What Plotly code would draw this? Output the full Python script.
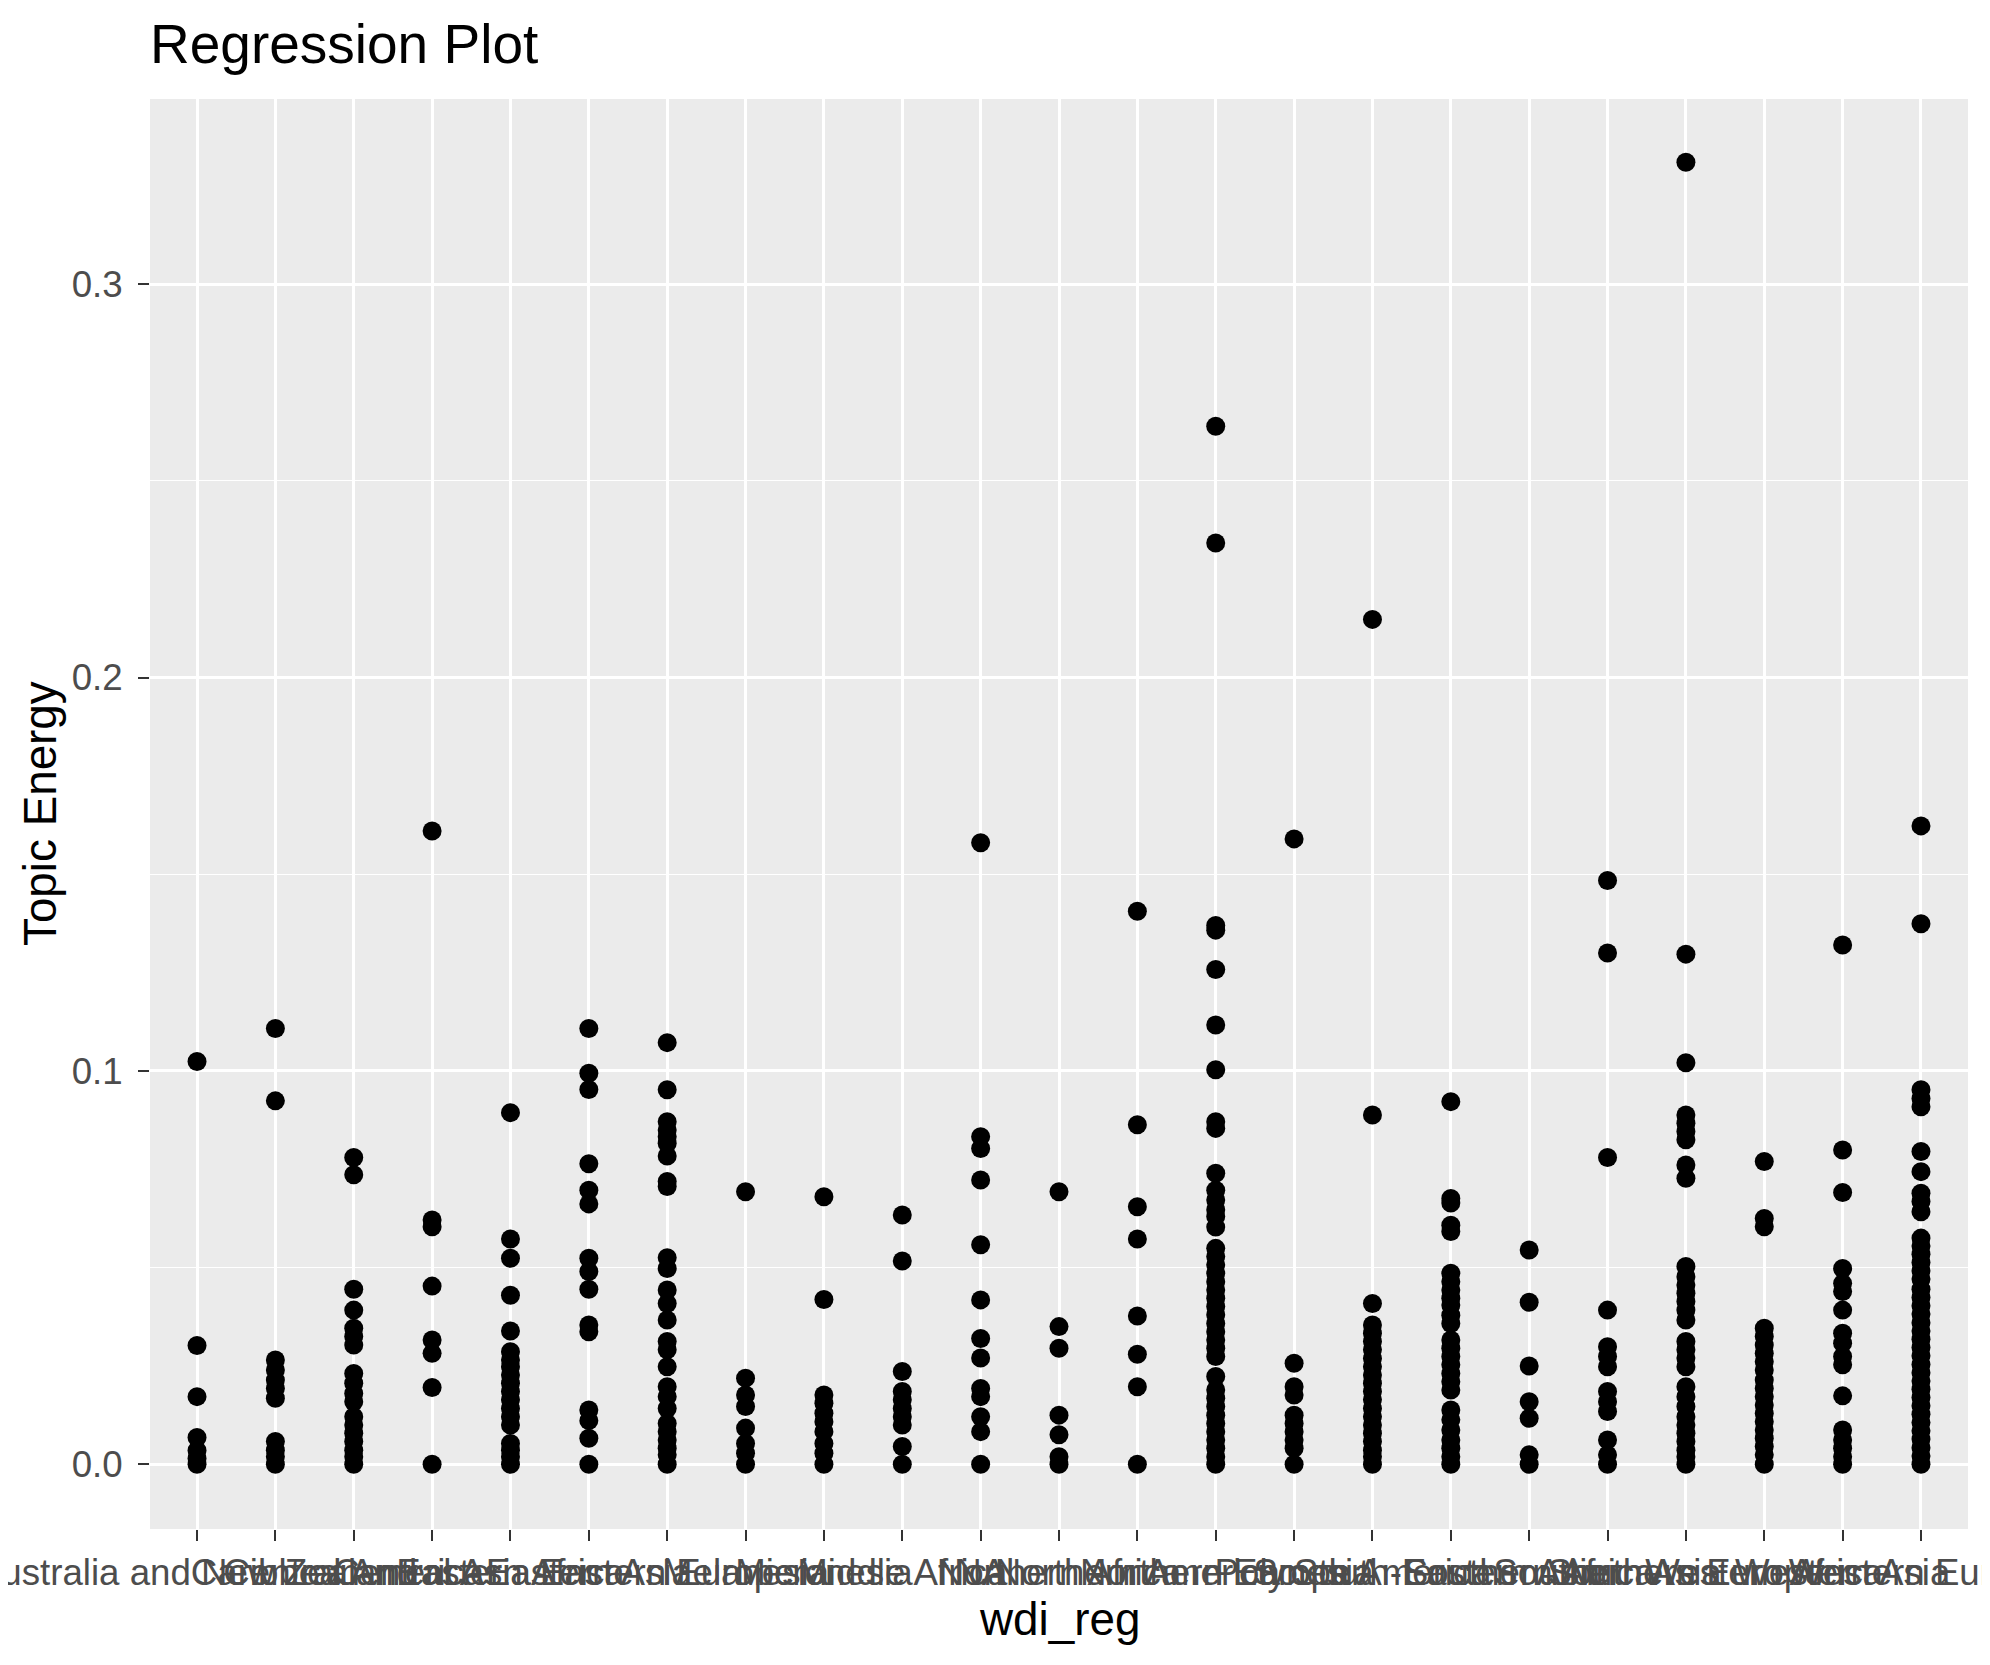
import plotly.graph_objects as go

categories = [
    "Australia and New Zealand", "Caribbean", "Central America", "Central Asia",
    "Eastern Africa", "Eastern Asia", "Eastern Europe", "Melanesia", "Micronesia",
    "Middle Africa", "NA", "Northern Africa", "Northern America", "Northern Europe",
    "Polynesia", "South America", "South-Eastern Asia", "Southern Africa",
    "Southern Asia", "Southern Europe", "Western Africa", "Western Asia", "Western Europe",
]

aus_nz = [0.1024, 0.0302, 0.0172, 0.0068, 0.0035, 0.0015, 0.0]
caribbean = [0.1108, 0.0924, 0.0265, 0.024, 0.0214, 0.0193, 0.0168, 0.0058, 0.0036, 0.0019, 0.0]
central_america = [0.078, 0.0736, 0.0445, 0.0392, 0.0346, 0.0325, 0.0303, 0.0231, 0.0206, 0.018,
                   0.0159, 0.0121, 0.01, 0.0079, 0.0058, 0.0036, 0.0019, 0.0]
central_asia = [0.161, 0.0621, 0.0604, 0.0453, 0.0316, 0.0282, 0.0195, 0.0]
eastern_africa = [0.0894, 0.0573, 0.0524, 0.043, 0.0339, 0.0286, 0.0265, 0.0248, 0.0227, 0.0206,
                  0.0185, 0.0164, 0.0142, 0.0121, 0.01, 0.0053, 0.0036, 0.0019, 0.0]
eastern_asia = [0.1108, 0.0994, 0.0953, 0.0764, 0.0697, 0.0662, 0.0524, 0.049, 0.0445, 0.0354,
                0.0337, 0.0138, 0.0111, 0.0066, 0.0]
eastern_europe = [0.1072, 0.0952, 0.0871, 0.085, 0.0833, 0.0816, 0.0784, 0.0719, 0.0706, 0.0525,
                  0.0498, 0.0443, 0.0409, 0.0367, 0.0312, 0.0291, 0.0248, 0.0197, 0.0172, 0.0142,
                  0.0104, 0.0083, 0.0062, 0.0041, 0.0024, 0.0]
melanesia = [0.0693, 0.0219, 0.0176, 0.0147, 0.0092, 0.0053, 0.0028, 0.0]
micronesia = [0.068, 0.0419, 0.0176, 0.0155, 0.013, 0.0108, 0.0083, 0.0053, 0.0028, 0.0]
middle_africa = [0.0634, 0.0517, 0.0236, 0.0185, 0.0164, 0.0142, 0.0121, 0.01, 0.0045, 0.0]
na_region = [0.158, 0.0833, 0.0803, 0.0723, 0.0558, 0.0418, 0.032, 0.027, 0.0193, 0.0172,
             0.0121, 0.0083, 0.0]
northern_africa = [0.0693, 0.035, 0.0295, 0.0125, 0.0075, 0.0019, 0.0]
northern_america = [0.1406, 0.0863, 0.0655, 0.0573, 0.0377, 0.028, 0.0197, 0.0]
northern_europe = [0.2639, 0.2342, 0.137, 0.1358, 0.1258, 0.1117, 0.1003, 0.0871, 0.0854, 0.074,
                   0.0697, 0.0672, 0.0647, 0.063, 0.0603, 0.0549, 0.0528, 0.0507, 0.0486, 0.0464,
                   0.0443, 0.0422, 0.0401, 0.038, 0.0358, 0.0337, 0.0316, 0.0295, 0.0274, 0.0223,
                   0.0189, 0.0168, 0.0147, 0.0125, 0.0104, 0.0083, 0.0062, 0.0041, 0.0019, 0.0]
polynesia = [0.159, 0.0257, 0.0197, 0.0176, 0.0125, 0.0104, 0.0083, 0.0062, 0.0041, 0.0]
south_america = [0.2148, 0.0888, 0.0409, 0.0354, 0.0333, 0.0312, 0.0291, 0.0269, 0.0248, 0.0227,
                 0.0206, 0.0185, 0.0164, 0.0142, 0.0121, 0.01, 0.0079, 0.0058, 0.0036, 0.0019, 0.0]
south_eastern_asia = [0.0922, 0.0676, 0.0664, 0.0608, 0.0592, 0.0486, 0.0464, 0.0443, 0.0422,
                      0.0405, 0.0379, 0.0358, 0.0316, 0.0295, 0.0274, 0.0253, 0.0231, 0.021,
                      0.0189, 0.0138, 0.0113, 0.0087, 0.0062, 0.0041, 0.0019, 0.0]
southern_africa = [0.0545, 0.0412, 0.025, 0.0159, 0.0117, 0.0024, 0.0]
southern_asia = [0.1484, 0.13, 0.078, 0.0392, 0.0299, 0.0274, 0.0248, 0.0185, 0.0159, 0.0134,
                 0.0062, 0.0024, 0.0]
southern_europe = [0.331, 0.1297, 0.1021, 0.0888, 0.0867, 0.0846, 0.0825, 0.0761, 0.0727, 0.0503,
                   0.0477, 0.0456, 0.0435, 0.0414, 0.0392, 0.0367, 0.0312, 0.0291, 0.027, 0.0248,
                   0.0197, 0.0172, 0.0147, 0.0121, 0.01, 0.0079, 0.0058, 0.0036, 0.0019, 0.0]
western_africa = [0.077, 0.0625, 0.0604, 0.0346, 0.0325, 0.0303, 0.0282, 0.0261, 0.024, 0.0214,
                  0.0193, 0.0172, 0.0151, 0.0129, 0.0108, 0.0087, 0.0066, 0.0045, 0.0024, 0.0]
western_asia = [0.132, 0.0799, 0.0691, 0.0498, 0.046, 0.0439, 0.0392, 0.0333, 0.0308, 0.0274,
                0.0253, 0.0174, 0.0087, 0.0062, 0.0041, 0.0019, 0.0]
western_europe = [0.1623, 0.1374, 0.0952, 0.093, 0.0909, 0.0795, 0.0744, 0.0689, 0.0668, 0.0642,
                  0.0575, 0.0555, 0.0534, 0.0513, 0.0492, 0.0471, 0.0445, 0.0424, 0.0403, 0.0382,
                  0.036, 0.0339, 0.0318, 0.0297, 0.0276, 0.0254, 0.0233, 0.0212, 0.0191, 0.017,
                  0.0149, 0.0127, 0.0106, 0.0085, 0.0064, 0.0042, 0.0021, 0.0]

values_by_region = [
    aus_nz, caribbean, central_america, central_asia, eastern_africa, eastern_asia,
    eastern_europe, melanesia, micronesia, middle_africa, na_region, northern_africa,
    northern_america, northern_europe, polynesia, south_america, south_eastern_asia,
    southern_africa, southern_asia, southern_europe, western_africa, western_asia, western_europe,
]

y_tickvals = [0.0, 0.1, 0.2, 0.3]
y_ticktext = ["0.0", "0.1", "0.2", "0.3"]

xs, ys = [], []
for cat, vals in zip(categories, values_by_region):
    xs.extend([cat] * len(vals))
    ys.extend(vals)

FONT = "Liberation Sans, Arial, Helvetica, sans-serif"

fig = go.Figure(
    go.Scatter(
        x=xs, y=ys, mode="markers",
        marker=dict(size=19, color="black", line=dict(width=0)),
        showlegend=False, hoverinfo="x+y",
    )
)

# page has an 8px body margin; figure sized so the panel lands where the reference has it
W, H = 1982, 1657
L, R, T, B = 142, 22, 91, 136
PW, PH = W - L - R, H - T - B

fig.update_layout(
    width=W, height=H,
    margin=dict(l=L, r=R, t=T, b=B, pad=0, autoexpand=False),
    paper_bgcolor="white",
    plot_bgcolor="#EBEBEB",
    font=dict(family=FONT, color="black"),
    title=dict(
        text="Regression Plot",
        font=dict(family=FONT, size=55, color="black"),
        x=0.0, xref="paper", xanchor="left",
        y=1 - 36 / H, yref="container", yanchor="middle",
    ),
    xaxis=dict(
        type="category",
        categoryorder="array", categoryarray=categories,
        range=[-0.6, len(categories) - 0.4],
        tickangle=0, automargin=False,
        showgrid=True, gridcolor="white", gridwidth=2.5,
        zeroline=False, showline=False,
        ticks="outside", ticklen=11, tickwidth=2.2, tickcolor="#333333",
        tickfont=dict(family=FONT, size=36.7, color="#4D4D4D"),
        fixedrange=True,
    ),
    yaxis=dict(
        range=[-0.01645, 0.3471],
        tickvals=y_tickvals, ticktext=y_ticktext,
        automargin=False,
        showgrid=True, gridcolor="white", gridwidth=2.5,
        minor=dict(dtick=0.05, tick0=0, showgrid=True, gridcolor="white", gridwidth=1.3, ticks=""),
        zeroline=False, showline=False,
        ticks="outside", ticklen=11, tickwidth=2.2, tickcolor="#333333",
        tickfont=dict(family=FONT, size=36.7, color="#4D4D4D"),
        ticklabelstandoff=8,
        fixedrange=True,
    ),
    annotations=[
        dict(
            text="wdi_reg", xref="paper", yref="paper",
            x=0.5, y=-(1611 - (H - B)) / PH,
            xanchor="center", yanchor="middle", showarrow=False,
            font=dict(family=FONT, size=45.8, color="black"),
        ),
        dict(
            text="Topic Energy", xref="paper", yref="paper",
            x=-(L - 32) / PW, y=0.5, textangle=-90,
            xanchor="center", yanchor="middle", showarrow=False,
            font=dict(family=FONT, size=45.8, color="black"),
        ),
    ],
)

fig.write_html("out.html")
